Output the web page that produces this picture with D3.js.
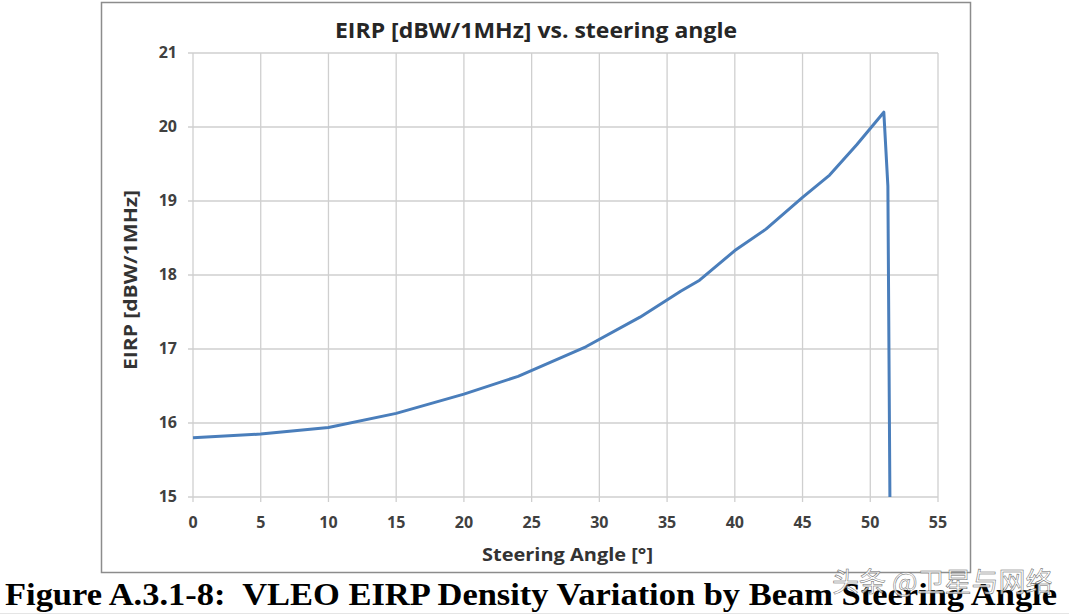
<!DOCTYPE html>
<html>
<head>
<meta charset="utf-8">
<script src="https://cdn.jsdelivr.net/npm/d3@7"></script>
<style>
  html, body { margin: 0; padding: 0; background: #fff; }
  svg { display: block; }
  text { white-space: pre; }
</style>
</head>
<body>
<svg id="chart" width="1069" height="615"></svg>
<script>
const chartTitle = "EIRP [dBW/1MHz] vs. steering angle";
const xTitle = "Steering Angle [°]";
const yTitle = "EIRP [dBW/1MHz]";
const caption = "Figure A.3.1-8:  VLEO EIRP Density Variation by Beam Steering Angle";
const watermark = "头条 @卫星与网络";
const xTicks = [0, 5, 10, 15, 20, 25, 30, 35, 40, 45, 50, 55];
const yTicks = [15, 16, 17, 18, 19, 20, 21];
const angles = [0, 5, 10, 15, 20, 24, 29, 33, 36, 37.4, 40, 42.3, 45, 47, 49, 51, 51.3, 51.45];
const eirp = [15.80, 15.85, 15.94, 16.13, 16.39, 16.63, 17.03, 17.43, 17.78, 17.93, 18.33, 18.62, 19.05, 19.35, 19.76, 20.20, 19.2, 15.0];

const svg = d3.select("#chart");
const font = "'Open Sans', Lato, sans-serif";

// outer chart border
svg.append("rect").attr("x", 101.5).attr("y", 2.5).attr("width", 869).attr("height", 570)
  .attr("fill", "#fff").attr("stroke", "#8c8c8c").attr("stroke-width", 1.5);

const x = d3.scaleLinear().domain([0, 55]).range([193, 938]);
const y = d3.scaleLinear().domain([15, 21]).range([497, 53]);

// gridlines
svg.append("g").selectAll("line").data(xTicks).join("line")
  .attr("x1", d => x(d)).attr("x2", d => x(d)).attr("y1", y(21)).attr("y2", y(15) + 5)
  .attr("stroke", "#cfcfcf").attr("stroke-width", 1.3);
svg.append("g").selectAll("line").data(yTicks).join("line")
  .attr("y1", d => y(d)).attr("y2", d => y(d)).attr("x1", x(0) - 5).attr("x2", x(55))
  .attr("stroke", "#cfcfcf").attr("stroke-width", 1.3);

// tick labels
svg.append("g").selectAll("text").data(xTicks).join("text")
  .attr("x", d => x(d)).attr("y", 528)
  .attr("text-anchor", "middle").attr("font-family", font).attr("font-weight", "bold")
  .attr("font-size", 16).attr("fill", "#404040").text(d => d);
svg.append("g").selectAll("text").data(yTicks).join("text")
  .attr("x", 177).attr("y", d => y(d) + 5)
  .attr("text-anchor", "end").attr("font-family", font).attr("font-weight", "bold")
  .attr("font-size", 16).attr("fill", "#404040").text(d => d);

// data line
const pts = angles.map((a, i) => [a, eirp[i]]);
svg.append("path").datum(pts)
  .attr("d", d3.line().x(d => x(d[0])).y(d => y(d[1])))
  .attr("fill", "none").attr("stroke", "#4a7ebb").attr("stroke-width", 3)
  .attr("stroke-linejoin", "round");

// titles
svg.append("text").attr("x", 335).attr("y", 38)
  .attr("font-family", font).attr("font-weight", "bold").attr("font-size", 21)
  .attr("textLength", 402).attr("lengthAdjust", "spacingAndGlyphs")
  .attr("fill", "#262626").text(chartTitle);
svg.append("text").attr("x", 482).attr("y", 561)
  .attr("font-family", font).attr("font-weight", "bold").attr("font-size", 17)
  .attr("textLength", 171).attr("lengthAdjust", "spacingAndGlyphs")
  .attr("fill", "#333").text(xTitle);
svg.append("text").attr("transform", "translate(137,370) rotate(-90)")
  .attr("font-family", font).attr("font-weight", "bold").attr("font-size", 17)
  .attr("textLength", 180).attr("lengthAdjust", "spacingAndGlyphs")
  .attr("fill", "#333").text(yTitle);

// caption
svg.append("text").attr("x", 5).attr("y", 605)
  .attr("font-family", "'Liberation Serif', 'Times New Roman', serif").attr("font-weight", "bold")
  .attr("font-size", 31).attr("textLength", 1052).attr("lengthAdjust", "spacingAndGlyphs")
  .attr("fill", "#000").text(caption);

// watermark
svg.append("text").attr("x", 832).attr("y", 592)
  .attr("font-family", "'Noto Sans CJK SC', sans-serif").attr("font-size", 27)
  .attr("fill", "#fff").attr("fill-opacity", 0.8).attr("stroke", "#666").attr("stroke-width", 0.5)
  .text(watermark);

svg.append("line").attr("x1", 0).attr("x2", 1069).attr("y1", 613.5).attr("y2", 613.5)
  .attr("stroke", "#e5e5e5").attr("stroke-width", 1);
</script>
</body>
</html>
